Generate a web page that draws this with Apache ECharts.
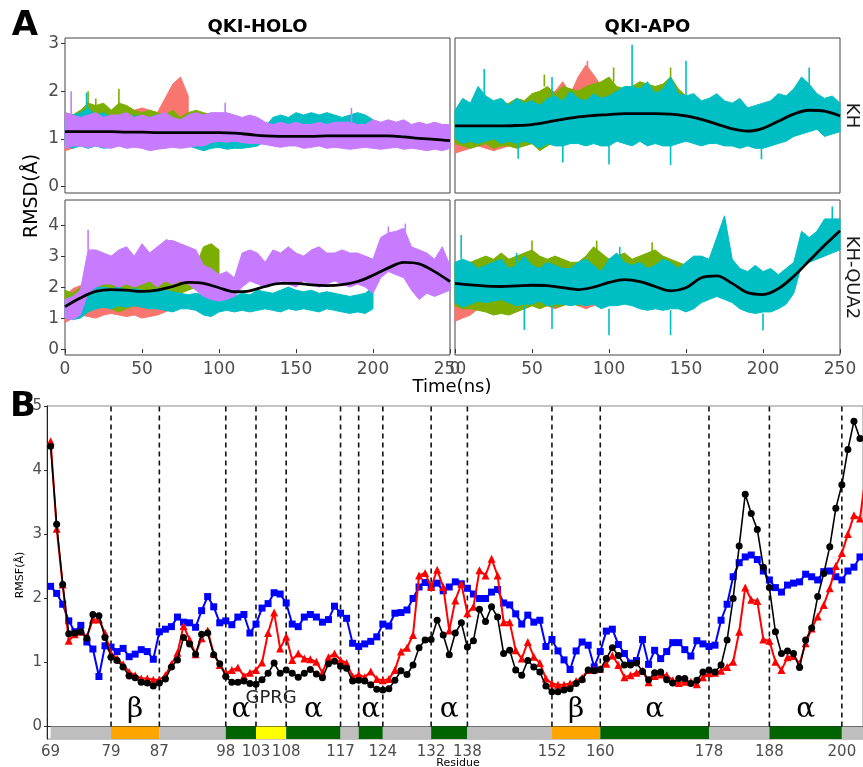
<!DOCTYPE html>
<html><head><meta charset="utf-8">
<script src="https://cdn.jsdelivr.net/npm/echarts@6/dist/echarts.min.js"></script>
<style>html,body{margin:0;padding:0;background:#fff}#c{width:863px;height:767px}</style>
</head><body><div id="c"></div>
<script>
// ---------------- Panel A data (RMSD, Å) ----------------
var timeA = [0,5,10,15,20,25,30,35,40,45,50,55,60,65,70,75,80,85,90,95,100,105,110,115,120,125,130,135,140,145,150,155,160,165,170,175,180,185,190,195,200,205,210,215,220,225,230,235,240,245,250];
var timeSmooth = [0,10,20,30,40,50,60,70,80,90,100,110,120,130,140,150,160,170,180,190,200,210,220,230,240,250];
var xTicksA = [0,50,100,150,200,250];
var yTicksTop = [0,1,2,3];
var yTicksBottom = [0,1,2,3,4];

// QKI-HOLO / KH
var holoKH_red_hi = [1.40,1.50,1.55,1.60,1.55,1.60,1.55,1.60,1.65,1.60,1.65,1.60,1.55,1.85,2.15,2.30,1.90];
var holoKH_red_lo = [0.75,0.80,0.90,1.00,1.05,1.05,1.10,1.10,1.15,1.20,1.20,1.15,1.20,1.30,1.40,1.40,1.30];
var holoKH_red_spk = [];
var holoKH_green_hi = [1.55,1.50,1.60,1.75,1.70,1.75,1.60,1.75,1.70,1.60,1.55,1.60,1.55,1.50,1.60,1.45,1.55,1.60,1.55,1.50,1.40];
var holoKH_green_lo = [0.85,0.90,1.00,1.05,1.10,1.05,1.10,1.10,1.15,1.10,1.10,1.05,1.10,1.10,1.05,1.00,0.95,0.95,0.90,0.90,0.90];
var holoKH_green_spk = [[15,1.6,2.0],[35,1.6,2.05],[20,1.6,1.85]];
var holoKH_cyan_hi = [1.40,1.50,1.55,1.65,1.50,1.55,1.45,1.50,1.40,1.50,1.40,1.45,1.50,1.40,1.40,1.35,1.40,1.30,1.20,1.15,1.10,1.15,1.10,1.15,1.10,1.05,1.25,1.45,1.50,1.45,1.55,1.50,1.55,1.50,1.55,1.50,1.45,1.50,1.55,1.50,1.40];
var holoKH_cyan_lo = [0.85,0.80,0.85,0.80,0.85,0.80,0.82,0.85,0.88,0.85,0.90,0.88,0.85,0.88,0.90,0.85,0.85,0.80,0.75,0.80,0.82,0.78,0.80,0.80,0.82,0.85,0.95,0.90,0.92,0.95,0.90,0.92,0.95,0.90,0.92,0.95,0.90,0.92,0.90,0.92,0.95];
var holoKH_cyan_spk = [[14,1.5,1.97]];
var holoKH_purple_hi = [1.55,1.50,1.45,1.50,1.55,1.45,1.50,1.50,1.55,1.45,1.50,1.45,1.50,1.55,1.45,1.40,1.50,1.55,1.50,1.55,1.55,1.55,1.50,1.45,1.50,1.45,1.35,1.30,1.35,1.30,1.35,1.30,1.30,1.35,1.30,1.35,1.35,1.35,1.30,1.30,1.40,1.35,1.40,1.35,1.40,1.30,1.35,1.30,1.35,1.30,1.30];
var holoKH_purple_lo = [0.80,0.85,0.85,0.82,0.85,0.82,0.80,0.85,0.80,0.82,0.80,0.75,0.78,0.80,0.82,0.80,0.82,0.85,0.85,0.92,0.95,0.93,0.95,0.92,0.90,0.90,0.88,0.85,0.82,0.85,0.85,0.80,0.82,0.85,0.80,0.82,0.80,0.78,0.80,0.82,0.80,0.78,0.80,0.82,0.78,0.80,0.78,0.75,0.78,0.75,0.80];
var holoKH_purple_spk = [[4,1.5,2.0],[104,1.5,1.76],[186,1.3,1.65]];
var holoKH_smooth = [1.15,1.15,1.15,1.15,1.14,1.14,1.13,1.13,1.13,1.13,1.13,1.12,1.09,1.06,1.05,1.05,1.05,1.06,1.06,1.06,1.06,1.06,1.04,1.01,0.99,0.96];

// QKI-APO / KH
var apoKH_red_hi = [1.50,1.55,1.60,1.60,1.65,1.60,1.70,1.65,1.60,1.75,1.80,1.75,1.95,2.00,2.20,1.95,2.30,2.55,2.35,2.10,1.85];
var apoKH_red_lo = [0.70,0.75,0.80,0.85,0.80,0.75,0.80,0.85,0.90,0.85,0.90,0.95,1.00,1.05,1.10,1.10,1.15,1.20,1.20,1.15,1.10];
var apoKH_red_spk = [[86,2.4,2.64]];
var apoKH_green_hi = [1.60,1.55,1.60,1.65,1.70,1.75,1.70,1.75,1.85,1.80,1.95,2.00,2.10,1.95,2.10,2.05,2.00,2.10,2.15,2.20,2.30,2.10,2.05,2.10,2.20,2.15,2.10,2.15,2.30,2.05,1.90];
var apoKH_green_lo = [0.90,0.85,0.80,0.85,0.90,0.80,0.85,0.85,0.80,0.85,0.90,0.75,0.85,0.95,1.00,1.00,1.05,1.00,1.05,1.00,1.05,1.00,1.05,1.00,1.05,1.00,1.00,0.95,0.95,1.00,1.05];
var apoKH_green_spk = [[58,2.1,2.35],[103,2.2,2.5],[140,2.2,2.5]];
var apoKH_cyan_hi = [1.60,1.85,1.75,2.10,1.90,1.80,1.85,1.70,1.85,1.75,1.80,1.70,1.85,1.90,1.80,2.00,1.85,1.80,1.95,1.85,1.90,2.00,2.10,2.10,2.05,2.20,1.95,2.05,2.30,1.95,1.90,1.95,1.80,1.85,1.95,1.80,1.75,1.85,1.65,1.70,1.75,1.80,1.95,1.90,2.05,2.30,2.15,1.95,1.85,1.90,1.75];
var apoKH_cyan_lo = [1.00,0.90,0.95,0.90,0.95,1.00,0.90,0.95,0.90,0.95,0.90,0.80,0.90,0.85,0.85,0.90,0.90,0.85,0.90,0.85,0.85,0.95,0.90,0.85,0.95,0.85,0.90,0.85,0.85,0.90,0.95,0.90,0.85,0.90,0.90,0.85,0.85,0.80,0.85,0.80,0.80,0.85,0.90,0.95,1.05,1.10,1.15,1.20,1.05,1.10,1.15];
var apoKH_cyan_spk = [[19,1.9,2.47],[115,2.1,2.98],[150,1.9,2.64],[230,2.1,2.5],[63,1.9,2.3],[41,0.9,0.58],[70,0.85,0.5],[100,0.85,0.46],[140,0.85,0.45],[199,0.8,0.57]];
var apoKH_smooth = [1.27,1.27,1.27,1.27,1.28,1.30,1.35,1.41,1.46,1.49,1.51,1.53,1.53,1.53,1.52,1.48,1.41,1.31,1.21,1.16,1.22,1.37,1.52,1.60,1.58,1.48];

// QKI-HOLO / KH-QUA2
var holoQ_red_hi = [1.70,1.95,2.05,2.00,1.90,1.80,1.85,1.90,2.00,1.90,1.95,2.00,2.10,2.00,2.20,2.10];
var holoQ_red_lo = [0.85,1.00,1.10,1.05,1.00,1.10,1.15,1.10,1.05,1.10,1.00,1.05,1.10,1.20,1.30,1.50];
var holoQ_red_spk = [];
var holoQ_green_hi = [1.90,1.80,2.00,2.10,2.00,2.10,2.20,2.30,2.20,2.40,2.30,2.20,2.50,2.60,2.70,2.50,2.60,2.70,3.30,3.40,3.20];
var holoQ_green_lo = [1.10,1.20,1.30,1.40,1.50,1.40,1.30,1.20,1.30,1.40,1.50,1.60,1.60,1.70,1.60,1.80,1.90,2.00,2.30,2.40,2.40];
var holoQ_green_spk = [];
var holoQ_cyan_hi = [1.60,1.70,1.80,2.00,2.00,2.00,1.95,2.00,1.90,1.95,1.90,1.85,1.95,1.90,1.85,1.80,1.75,1.80,1.75,1.70,1.80,1.75,1.70,1.80,1.75,1.90,1.85,1.80,1.90,2.00,1.90,1.85,1.90,1.80,1.85,1.80,1.75,1.70,1.75,1.80,2.00];
var holoQ_cyan_lo = [1.00,0.95,1.00,1.20,1.30,1.35,1.30,1.40,1.35,1.40,1.35,1.30,1.30,1.25,1.20,1.30,1.30,1.25,1.10,1.05,1.20,1.25,1.20,1.25,1.20,1.25,1.30,1.25,1.20,1.30,1.25,1.30,1.25,1.20,1.30,1.25,1.20,1.15,1.20,1.15,1.30];
var holoQ_cyan_spk = [[15,2.0,2.65]];
var holoQ_purple_hi = [1.60,1.70,1.90,3.20,3.20,3.10,3.00,3.20,3.30,3.00,3.40,3.10,3.30,3.50,3.50,3.40,3.30,3.20,2.70,2.60,2.40,2.50,2.30,3.10,3.20,3.10,2.80,3.20,3.10,3.30,3.10,3.00,3.20,3.30,3.10,3.10,3.20,3.10,3.10,3.00,2.90,3.60,3.75,3.80,3.90,3.30,3.20,3.10,2.90,3.30,2.70];
var holoQ_purple_lo = [1.00,0.95,1.10,1.80,2.00,2.10,2.10,2.00,2.10,2.00,2.10,2.20,2.00,2.20,2.10,2.20,2.10,1.90,1.70,1.60,1.55,1.60,1.70,2.00,2.20,2.10,2.00,2.10,2.20,2.10,2.00,2.20,2.10,2.00,2.10,2.20,2.10,2.00,2.10,2.00,1.80,2.30,2.50,2.40,2.30,1.90,1.60,1.80,1.70,1.80,1.90];
var holoQ_purple_spk = [[15,3.2,3.85],[221,3.8,4.05],[66,3.4,3.55],[210,3.6,3.95]];
var holoQ_smooth = [1.37,1.65,1.86,1.92,1.90,1.86,1.90,2.02,2.15,2.12,1.98,1.85,1.88,2.02,2.12,2.12,2.07,2.05,2.08,2.18,2.38,2.62,2.80,2.75,2.50,2.18];

// QKI-APO / KH-QUA2
var apoQ_red_hi = [2.40,2.50,2.60,2.50,2.60,2.70,2.50,2.60,2.70,2.50,2.60,2.70,2.60,2.50,2.60,2.70,2.80,2.60,2.70,2.60,2.50];
var apoQ_red_lo = [0.90,1.00,1.10,1.30,1.20,1.30,1.40,1.30,1.40,1.30,1.40,1.50,1.40,1.30,1.40,1.50,1.40,1.30,1.40,1.50,1.60];
var apoQ_red_spk = [];
var apoQ_green_hi = [2.80,2.70,2.80,2.90,3.00,2.90,3.10,2.90,3.00,3.10,3.20,3.00,2.90,3.00,2.90,2.80,2.80,3.00,3.30,3.10,2.90,3.00,3.10,2.90,3.00,3.10,3.20,3.00,2.90,2.80,2.70];
var apoQ_green_lo = [1.40,1.30,1.30,1.25,1.20,1.10,1.15,1.10,1.20,1.30,1.40,1.30,1.40,1.35,1.40,1.50,1.40,1.50,1.60,1.50,1.50,1.60,1.70,1.60,1.50,1.60,1.50,1.40,1.50,1.60,1.50];
var apoQ_green_spk = [[50,3.0,3.5],[92,3.0,3.5],[128,3.0,3.45]];
var apoQ_cyan_hi = [2.80,2.90,2.80,2.60,2.70,2.80,2.90,2.60,2.70,3.00,2.70,2.60,2.80,2.70,2.60,2.60,2.80,2.90,2.70,2.50,2.90,3.10,2.80,2.70,2.80,2.60,2.70,2.90,2.80,2.60,2.80,3.00,3.00,2.90,3.60,4.30,2.90,2.60,2.50,2.70,2.50,2.60,2.40,2.60,2.80,3.80,3.60,3.80,4.20,4.20,4.20];
var apoQ_cyan_lo = [1.50,1.35,1.45,1.55,1.50,1.55,1.60,1.50,1.40,1.45,1.45,1.55,1.40,1.45,1.45,1.40,1.45,1.40,1.45,1.30,1.40,1.40,1.45,1.40,1.30,1.25,1.30,1.25,1.30,1.30,1.20,1.30,1.50,1.60,1.70,1.60,1.50,1.30,1.20,1.15,1.20,1.20,1.30,1.45,1.80,2.70,2.80,2.90,3.00,3.10,3.20];
var apoQ_cyan_spk = [[4,2.9,3.68],[40,2.7,3.1],[107,2.9,3.3],[245,4.2,4.6],[45,1.4,0.62],[63,1.4,0.65],[100,1.3,0.45],[140,1.25,0.45],[200,1.15,0.6]];
var apoQ_smooth = [2.12,2.07,2.03,2.02,2.04,2.06,2.05,1.98,1.92,2.00,2.15,2.24,2.18,2.02,1.88,1.98,2.30,2.36,2.12,1.82,1.76,1.95,2.35,2.85,3.35,3.82];

// ---------------- Panel B data (RMSF, Å) ----------------
var residues = [69,70,71,72,73,74,75,76,77,78,79,80,81,82,83,84,85,86,87,88,89,90,91,92,93,94,95,96,97,98,99,100,101,102,103,104,105,106,107,108,109,110,111,112,113,114,115,116,117,118,119,120,121,122,123,124,125,126,127,128,129,130,131,132,133,134,135,136,137,138,139,140,141,142,143,144,145,146,147,148,149,150,151,152,153,154,155,156,157,158,159,160,161,162,163,164,165,166,167,168,169,170,171,172,173,174,175,176,177,178,179,180,181,182,183,184,185,186,187,188,189,190,191,192,193,194,195,196,197,198,199,200,201,202,203,204];
var rmsfBlack = [4.37,3.15,2.21,1.44,1.45,1.47,1.37,1.74,1.72,1.38,
 1.07,1.02,0.92,0.78,0.75,0.68,0.67,0.62,0.67,0.73,
 0.92,1.03,1.38,1.28,1.12,1.43,1.45,1.11,0.97,0.77,
 0.68,0.68,0.70,0.66,0.65,0.72,0.82,0.98,0.82,0.87,
 0.82,0.76,0.82,0.88,0.81,0.75,0.97,1.01,0.93,0.90,
 0.70,0.71,0.70,0.64,0.57,0.56,0.58,0.71,0.86,0.80,
 0.95,1.22,1.34,1.35,1.65,1.42,1.11,1.45,1.61,1.23,
 1.33,1.82,1.63,1.86,1.70,1.13,1.18,0.87,0.79,1.02,
 0.92,0.84,0.62,0.53,0.53,0.56,0.58,0.66,0.72,0.87,
 0.86,0.88,1.05,1.22,1.10,0.95,0.95,0.98,0.85,0.72,
 0.83,0.84,0.72,0.67,0.74,0.74,0.66,0.71,0.84,0.87,
 0.84,0.95,1.34,1.99,2.81,3.62,3.32,3.07,2.48,2.16,
 1.47,1.13,1.17,1.13,0.91,1.34,1.53,2.02,2.38,2.80,
 3.40,3.77,4.32,4.76,4.49];
var rmsfRed = [4.45,3.08,2.21,1.33,1.43,1.47,1.39,1.66,1.66,1.45,
 1.13,1.05,0.96,0.84,0.79,0.74,0.74,0.72,0.72,0.79,
 0.96,1.14,1.56,1.35,1.12,1.37,1.49,1.13,0.95,0.82,
 0.87,0.91,0.78,0.83,0.87,0.99,1.45,1.77,1.21,1.39,
 1.03,1.13,1.05,1.04,1.00,0.83,1.07,1.13,1.03,0.98,
 0.77,0.80,0.76,0.85,0.73,0.71,0.73,0.87,1.16,1.22,
 1.42,2.35,2.39,2.17,2.44,2.17,1.49,1.96,2.22,1.76,
 1.86,2.43,2.35,2.61,2.35,1.62,1.62,1.18,1.05,1.31,
 1.08,0.98,0.74,0.66,0.64,0.64,0.66,0.70,0.75,0.87,
 0.88,0.89,0.97,1.10,0.95,0.76,0.79,0.83,0.86,0.68,
 0.78,0.80,0.79,0.71,0.67,0.69,0.69,0.65,0.76,0.82,
 0.83,0.86,0.92,1.00,1.47,2.16,1.97,1.95,1.35,1.33,
 1.00,0.87,1.07,1.09,0.97,1.29,1.52,1.71,1.89,2.15,
 2.50,2.70,3.00,3.29,3.24,3.95];
var rmsfBlue = [2.18,2.07,1.90,1.64,1.47,1.57,1.31,1.20,0.77,1.25,
 1.23,1.16,1.21,1.08,1.12,1.19,1.16,1.04,1.47,1.51,
 1.55,1.70,1.62,1.61,1.54,1.80,2.02,1.86,1.61,1.64,
 1.58,1.70,1.74,1.45,1.59,1.84,1.91,2.08,2.06,1.92,
 1.59,1.55,1.70,1.74,1.70,1.62,1.66,1.87,1.76,1.68,
 1.29,1.24,1.28,1.32,1.39,1.59,1.56,1.76,1.77,1.81,
 1.99,2.17,2.24,2.18,2.23,2.11,2.17,2.25,2.22,2.15,
 2.06,1.99,1.99,2.09,2.13,1.92,1.89,1.75,1.59,1.73,
 1.62,1.65,1.24,1.35,1.17,1.03,0.88,1.17,1.31,1.26,
 0.92,1.16,1.48,1.51,1.27,1.13,0.98,1.02,1.35,0.96,
 1.18,1.05,1.16,1.30,1.30,1.19,1.09,1.33,1.28,1.24,
 1.26,1.65,1.90,2.33,2.55,2.64,2.67,2.60,2.42,2.28,
 2.16,2.09,2.20,2.23,2.25,2.37,2.33,2.28,2.41,2.42,
 2.33,2.28,2.42,2.48,2.64];
var ssStart = [69,79,87,98,103,108,117,120,124,132,138,152,160,178,188,200];
var ssEnd   = [79,87,98,103,108,117,120,124,132,138,152,160,178,188,200,204];
var ssType  = ['coil','strand','coil','helix','gprg','helix','coil','helix','coil','helix','coil','strand','helix','coil','helix','coil'];
var ssLabel = ['','β','','α','GPRG','α','','α','','α','','β','α','','α',''];
var ssBoundaries = [79,87,98,103,108,117,120,124,132,138,152,160,178,188,200];
var residueTicks = [69,79,87,98,103,108,117,124,132,138,152,160,178,188,200];
var rmsfTicks = [0,1,2,3,4,5];

// ---------------- drawing ----------------
var F = '"DejaVu Sans", "Liberation Sans", sans-serif';
var COL = {red:'#F8766D', green:'#7CAE00', cyan:'#00BFC4', purple:'#C77CFF'};
var SS_COL = {coil:'#BEBEBE', strand:'#FFA500', helix:'#006400', gprg:'#FFFF00'};

function trace(g, hi, lo, spk, color) {
  return {
    type:'custom', xAxisIndex:g, yAxisIndex:g, silent:true, data:[[0,0]],
    renderItem:function(params, api){
      var pts = [], i;
      for (i = 0; i < hi.length; i++) pts.push(api.coord([timeA[i], hi[i]]));
      for (i = lo.length - 1; i >= 0; i--) pts.push(api.coord([timeA[i], lo[i]]));
      var ch = [{type:'polygon', shape:{points:pts}, style:{fill:color, stroke:color, lineWidth:1}}];
      spk.forEach(function(s){
        var a = api.coord([s[0], s[1]]), b = api.coord([s[0], s[2]]);
        ch.push({type:'line', shape:{x1:a[0], y1:a[1], x2:b[0], y2:b[1]}, style:{stroke:color, lineWidth:1.6}});
      });
      return {type:'group', children:ch};
    }
  };
}
function smoothLine(g, vals) {
  return {type:'line', xAxisIndex:g, yAxisIndex:g, silent:true, smooth:0.35, symbol:'none',
    data: timeSmooth.map(function(t,i){ return [t, vals[i]]; }),
    lineStyle:{color:'#000', width:2.8}, z:5};
}
function xA(g, show) {
  return {gridIndex:g, type:'value', min:0, max:250, interval:50,
    axisLine:{show:false}, splitLine:{show:false},
    axisTick:{show:show, length:4, lineStyle:{color:'#333'}},
    axisLabel:{show:show, fontSize:17, fontFamily:F, color:'#4d4d4d', margin:6, showMinLabel:true, showMaxLabel:true}};
}
function yA(g, min, max, ticks, show) {
  return {gridIndex:g, type:'value', min:min, max:max,
    axisLine:{show:false}, splitLine:{show:false},
    axisTick:{show:show, length:4, customValues:ticks, lineStyle:{color:'#333'}},
    axisLabel:{show:show, customValues:ticks, fontSize:17, fontFamily:F, color:'#4d4d4d', margin:6}};
}
function pairs(vals) { return vals.map(function(v,i){ return [residues[i], v]; }); }

var gridStyle = {show:true, borderColor:'#444', borderWidth:1, containLabel:false};
var option = {
  animation:false,
  backgroundColor:'#fff',
  grid:[
    Object.assign({left:65, top:38, width:385, height:155}, gridStyle),
    Object.assign({left:455, top:38, width:385, height:155}, gridStyle),
    Object.assign({left:65, top:200, width:385, height:155}, gridStyle),
    Object.assign({left:455, top:200, width:385, height:155}, gridStyle),
    {left:47, top:406, width:816, height:333, show:true, borderColor:'#888', borderWidth:1}
  ],
  xAxis:[
    xA(0,false), xA(1,false), xA(2,true), xA(3,true),
    {gridIndex:4, type:'value', min:68.4, max:203.5,
     axisLine:{show:true, lineStyle:{color:'#222', width:1}}, axisTick:{show:false}, splitLine:{show:false},
     axisLabel:{customValues:residueTicks, fontSize:15, fontFamily:F, color:'#4d4d4d', margin:6}}
  ],
  yAxis:[
    yA(0,-0.14,3.12,yTicksTop,true), yA(1,-0.14,3.12,yTicksTop,false),
    yA(2,-0.19,4.81,yTicksBottom,true), yA(3,-0.19,4.81,yTicksBottom,false),
    {gridIndex:4, type:'value', min:-0.207, max:5,
     axisLine:{show:true, lineStyle:{color:'#222', width:1}}, splitLine:{show:false},
     axisTick:{show:true, length:3, customValues:rmsfTicks, lineStyle:{color:'#333'}},
     axisLabel:{customValues:rmsfTicks, fontSize:15, fontFamily:F, color:'#4d4d4d', margin:5}}
  ],
  series:[
    trace(0, holoKH_red_hi, holoKH_red_lo, holoKH_red_spk, COL.red),
    trace(0, holoKH_green_hi, holoKH_green_lo, holoKH_green_spk, COL.green),
    trace(0, holoKH_cyan_hi, holoKH_cyan_lo, holoKH_cyan_spk, COL.cyan),
    trace(0, holoKH_purple_hi, holoKH_purple_lo, holoKH_purple_spk, COL.purple),
    smoothLine(0, holoKH_smooth),
    trace(1, apoKH_red_hi, apoKH_red_lo, apoKH_red_spk, COL.red),
    trace(1, apoKH_green_hi, apoKH_green_lo, apoKH_green_spk, COL.green),
    trace(1, apoKH_cyan_hi, apoKH_cyan_lo, apoKH_cyan_spk, COL.cyan),
    smoothLine(1, apoKH_smooth),
    trace(2, holoQ_red_hi, holoQ_red_lo, holoQ_red_spk, COL.red),
    trace(2, holoQ_green_hi, holoQ_green_lo, holoQ_green_spk, COL.green),
    trace(2, holoQ_cyan_hi, holoQ_cyan_lo, holoQ_cyan_spk, COL.cyan),
    trace(2, holoQ_purple_hi, holoQ_purple_lo, holoQ_purple_spk, COL.purple),
    smoothLine(2, holoQ_smooth),
    trace(3, apoQ_red_hi, apoQ_red_lo, apoQ_red_spk, COL.red),
    trace(3, apoQ_green_hi, apoQ_green_lo, apoQ_green_spk, COL.green),
    trace(3, apoQ_cyan_hi, apoQ_cyan_lo, apoQ_cyan_spk, COL.cyan),
    smoothLine(3, apoQ_smooth),
    // secondary structure bar
    {type:'custom', xAxisIndex:4, yAxisIndex:4, silent:true, clip:true,
     data: ssStart.map(function(s,i){ return [s, ssEnd[i], i]; }),
     renderItem:function(params, api){
       var i = api.value(2);
       var p1 = api.coord([api.value(0), -0.012]), p2 = api.coord([api.value(1), -0.207]);
       return {type:'rect', shape:{x:p1[0], y:p1[1], width:p2[0]-p1[0], height:p2[1]-p1[1]}, style:{fill:SS_COL[ssType[i]]}};
     }},
    // dashed boundaries
    {type:'custom', xAxisIndex:4, yAxisIndex:4, silent:true,
     data: ssBoundaries.map(function(b){ return [b, 0]; }),
     renderItem:function(params, api){
       var a = api.coord([api.value(0), -0.012]), b = api.coord([api.value(0), 5]);
       return {type:'line', shape:{x1:a[0], y1:a[1], x2:b[0], y2:b[1]}, style:{stroke:'#111', lineWidth:1.6, lineDash:[5,4]}};
     }},
    // secondary structure labels
    {type:'custom', xAxisIndex:4, yAxisIndex:4, silent:true, z:6,
     data: ssStart.map(function(s,i){ return [s, ssEnd[i], i]; }).filter(function(d){ return ssLabel[d[2]] !== ''; }),
     renderItem:function(params, api){
       var i = api.value(2), txt = ssLabel[i];
       var isG = (txt === 'GPRG');
       var p = api.coord([(api.value(0) + api.value(1)) / 2, isG ? 0.43 : 0.25]);
       return {type:'text', x:p[0], y:p[1], style:{text:txt,
         font: isG ? ('18px ' + F) : '28px "DejaVu Serif", "Liberation Serif", serif',
         fill: isG ? '#222' : '#000', align:'center', verticalAlign:'middle', textAlign:'center', textVerticalAlign:'middle'}};
     }},
    {type:'line', xAxisIndex:4, yAxisIndex:4, silent:true, data:pairs(rmsfBlue), symbol:'rect', symbolSize:7,
     itemStyle:{color:'#0000FF'}, lineStyle:{color:'#0000FF', width:2}, z:3},
    {type:'line', xAxisIndex:4, yAxisIndex:4, silent:true, data:pairs(rmsfRed), symbol:'triangle', symbolSize:8,
     itemStyle:{color:'#FF0000'}, lineStyle:{color:'#FF0000', width:2}, z:4},
    {type:'line', xAxisIndex:4, yAxisIndex:4, silent:true, data:pairs(rmsfBlack), symbol:'circle', symbolSize:7,
     itemStyle:{color:'#000'}, lineStyle:{color:'#000', width:1.6}, z:5}
  ],
  graphic:[
    {type:'text', x:25, y:26, z:100, style:{text:'A', font:'bold 34px ' + F, fill:'#000', align:'center', verticalAlign:'middle', textAlign:'center', textVerticalAlign:'middle'}},
    {type:'text', x:23, y:407, z:100, style:{text:'B', font:'bold 34px ' + F, fill:'#000', align:'center', verticalAlign:'middle', textAlign:'center', textVerticalAlign:'middle'}},
    {type:'text', x:257.5, y:27, style:{text:'QKI-HOLO', font:'bold 18px ' + F, fill:'#000', align:'center', verticalAlign:'middle', textAlign:'center', textVerticalAlign:'middle'}},
    {type:'text', x:647.5, y:27, style:{text:'QKI-APO', font:'bold 18px ' + F, fill:'#000', align:'center', verticalAlign:'middle', textAlign:'center', textVerticalAlign:'middle'}},
    {type:'text', x:852, y:115.5, rotation:-Math.PI/2, style:{text:'KH', font:'18px ' + F, fill:'#1a1a1a', align:'center', verticalAlign:'middle', textAlign:'center', textVerticalAlign:'middle'}},
    {type:'text', x:852, y:277.5, rotation:-Math.PI/2, style:{text:'KH-QUA2', font:'18px ' + F, fill:'#1a1a1a', align:'center', verticalAlign:'middle', textAlign:'center', textVerticalAlign:'middle'}},
    {type:'text', x:32, y:196, rotation:Math.PI/2, style:{text:'RMSD(Å)', font:'19px ' + F, fill:'#000', align:'center', verticalAlign:'middle', textAlign:'center', textVerticalAlign:'middle'}},
    {type:'text', x:452, y:387, style:{text:'Time(ns)', font:'18px ' + F, fill:'#000', align:'center', verticalAlign:'middle', textAlign:'center', textVerticalAlign:'middle'}},
    {type:'text', x:20, y:575, rotation:Math.PI/2, style:{text:'RMSF(Å)', font:'11px ' + F, fill:'#000', align:'center', verticalAlign:'middle', textAlign:'center', textVerticalAlign:'middle'}},
    {type:'text', x:458, y:763, style:{text:'Residue', font:'11px ' + F, fill:'#000', align:'center', verticalAlign:'middle', textAlign:'center', textVerticalAlign:'middle'}}
  ]
};
var chart = echarts.init(document.getElementById('c'), null, {renderer:'canvas'});
chart.setOption(option);
</script></body></html>
